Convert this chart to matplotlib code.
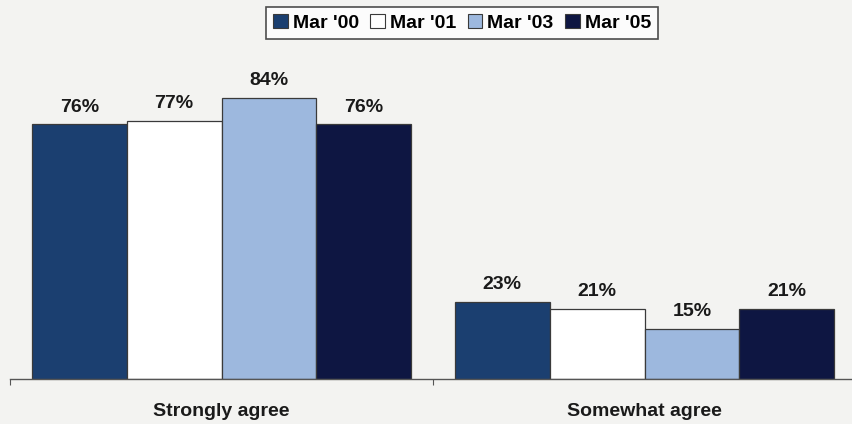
import matplotlib.pyplot as plt
import numpy as np
from matplotlib.patches import Patch

categories = ["Strongly agree", "Somewhat agree"]
series = ["Mar '00", "Mar '01", "Mar '03", "Mar '05"]
values = {
    "Mar '00": [76, 23],
    "Mar '01": [77, 21],
    "Mar '03": [84, 15],
    "Mar '05": [76, 21],
}
colors = ["#1b3f70", "#ffffff", "#9db8de", "#0e1642"]

plt.rcParams["font.family"] = ["Liberation Sans", "DejaVu Sans"]

bg = "#f3f3f1"
fig = plt.figure(figsize=(8.52, 4.24), dpi=100, facecolor=bg)
ax = fig.add_axes([10 / 852, 45 / 424, 846 / 852, 0.79], facecolor=bg)

x = np.arange(len(categories))
bw = 0.224
offsets = (np.arange(len(series)) - 1.5) * bw
for s, off, c in zip(series, offsets, colors):
    bars = ax.bar(x + off, values[s], bw, color=c, edgecolor="#3a3a3a", linewidth=0.9, zorder=2)
    for b, v in zip(bars, values[s]):
        ax.text(b.get_x() + b.get_width() / 2, v + 2.6, f"{v}%", ha="center", va="bottom",
                fontsize=14, fontweight="bold", color="#1a1a1a")

ax.set_xlim(-0.5, 1.5)
ax.set_ylim(0, 100)
for sp in ["top", "right", "left"]:
    ax.spines[sp].set_visible(False)
ax.spines["bottom"].set_color("#555555")
ax.spines["bottom"].set_linewidth(1.0)
ax.set_yticks([])
ax.set_xticks([-0.5, 0.5, 1.5])
ax.set_xticklabels([])
ax.tick_params(axis="x", which="major", length=4, color="#555555")
ax.set_xticks(x, minor=True)
ax.set_xticklabels(categories, minor=True, fontsize=14, fontweight="bold", color="#1a1a1a")
ax.tick_params(axis="x", which="minor", length=0, pad=17)

handles = [Patch(facecolor=c, edgecolor="#3a3a3a", linewidth=0.8) for c in colors]
leg = fig.legend(handles, series, loc="center", bbox_to_anchor=(462 / 852, 1 - 23 / 424),
                 ncol=4, frameon=True, fancybox=False, edgecolor="#222222",
                 prop={"weight": "bold", "size": 14}, handlelength=0.75, handleheight=0.75,
                 handletextpad=0.25, columnspacing=0.6, borderpad=0.38)
leg.get_frame().set_linewidth(1.2)
leg.get_frame().set_facecolor("#ffffff")

fig.savefig("out.png", dpi=100, facecolor=bg)
